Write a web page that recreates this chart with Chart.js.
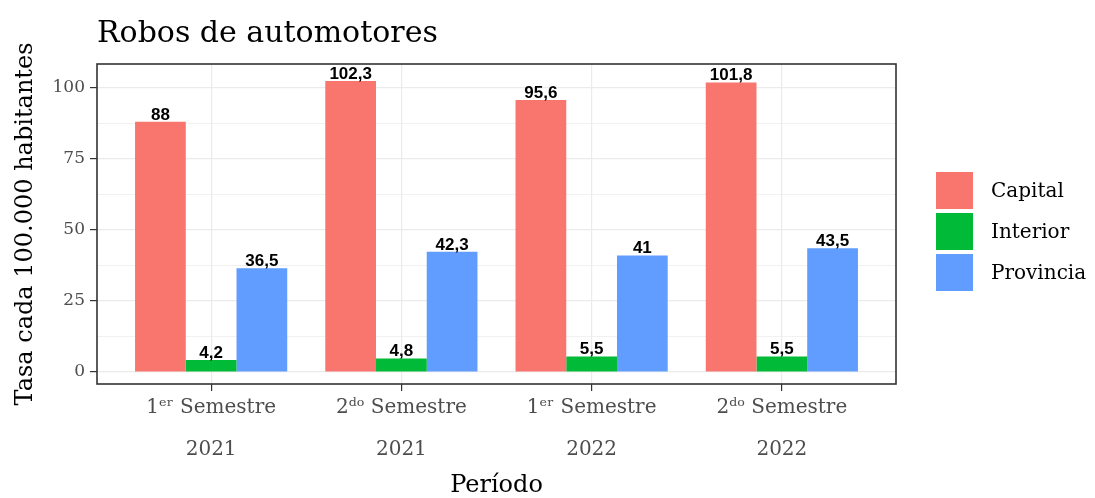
<!DOCTYPE html>
<html>
<head>
<meta charset="utf-8">
<title>Robos de automotores</title>
<script src="https://cdn.jsdelivr.net/npm/chart.js@4/dist/chart.umd.min.js"></script>
<style>
  html, body { margin: 0; padding: 0; background: #ffffff; }
  canvas { display: block; }
</style>
</head>
<body>
<canvas id="chart" width="1095" height="498"></canvas>
<script>
// Periods (semesters) and their tick labels
const periods = [1, 2, 3, 4];
const periodLabels = [
  ['1\u1D49\u02B3 Semestre', '2021'],
  ['2\u1D48\u1D52 Semestre', '2021'],
  ['1\u1D49\u02B3 Semestre', '2022'],
  ['2\u1D48\u1D52 Semestre', '2022']
];

// Rate per 100.000 inhabitants, by region
const capital   = [88, 102.3, 95.6, 101.8];
const interior  = [4.2, 4.8, 5.5, 5.5];
const provincia = [36.5, 42.3, 41, 43.5];

const seriesNames = ['Capital', 'Interior', 'Provincia'];
const seriesColors = ['#F8766D', '#00BA38', '#619CFF'];

const yMajorTicks = [0, 25, 50, 75, 100];
const yMinorTicks = [12.5, 37.5, 62.5, 87.5];

const SERIF = '"DejaVu Serif", "Liberation Serif", serif';

function points(values) {
  return values.map((v, i) => ({ x: periods[i], y: v }));
}

// Title drawn at the top-left of the panel
const titlePlugin = {
  id: 'plotTitle',
  afterDraw(chart) {
    const ctx = chart.ctx;
    ctx.save();
    ctx.fillStyle = '#000000';
    ctx.font = '30px ' + SERIF;
    ctx.textAlign = 'left';
    ctx.textBaseline = 'alphabetic';
    ctx.fillText('Robos de automotores', chart.chartArea.left, 42);
    ctx.restore();
  }
};

// Dark frame around the plotting panel
const panelBorder = {
  id: 'panelBorder',
  afterDraw(chart) {
    const { left, top, right, bottom } = chart.chartArea;
    const ctx = chart.ctx;
    ctx.save();
    ctx.strokeStyle = '#333333';
    ctx.lineWidth = 1.6;
    ctx.strokeRect(left, top, right - left, bottom - top);
    ctx.restore();
  }
};

// Value labels above every bar
const valueLabels = {
  id: 'valueLabels',
  afterDatasetsDraw(chart) {
    const ctx = chart.ctx;
    ctx.save();
    ctx.fillStyle = '#000000';
    ctx.font = 'bold 17px "Liberation Sans", Arial, sans-serif';
    ctx.textAlign = 'center';
    ctx.textBaseline = 'alphabetic';
    chart.data.datasets.forEach((ds, di) => {
      const meta = chart.getDatasetMeta(di);
      meta.data.forEach((bar, i) => {
        const v = ds.data[i].y;
        ctx.fillText(String(v).replace('.', ','), bar.x, bar.y - 2);
      });
    });
    ctx.restore();
  }
};

// Legend with square keys to the right of the panel
const sideLegend = {
  id: 'sideLegend',
  afterDraw(chart) {
    const ctx = chart.ctx;
    const boxX = 936, boxSize = 37, step = 41, firstTop = 172;
    ctx.save();
    ctx.font = '20px ' + SERIF;
    ctx.textAlign = 'left';
    ctx.textBaseline = 'middle';
    chart.data.datasets.forEach((ds, i) => {
      const top = firstTop + i * step;
      ctx.fillStyle = ds.backgroundColor;
      ctx.fillRect(boxX, top, boxSize, boxSize);
      ctx.fillStyle = '#000000';
      ctx.fillText(ds.label, boxX + boxSize + 18, top + boxSize / 2 + 1);
    });
    ctx.restore();
  }
};

new Chart(document.getElementById('chart'), {
  type: 'bar',
  data: {
    datasets: [
      { label: seriesNames[0], data: points(capital),   backgroundColor: seriesColors[0] },
      { label: seriesNames[1], data: points(interior),  backgroundColor: seriesColors[1] },
      { label: seriesNames[2], data: points(provincia), backgroundColor: seriesColors[2] }
    ]
  },
  options: {
    responsive: false,
    animation: false,
    layout: { padding: { top: 64, right: 199, left: 0, bottom: 0 } },
    datasets: {
      bar: { categoryPercentage: 0.8, barPercentage: 1.0, borderWidth: 0 }
    },
    plugins: {
      legend: { display: false },
      tooltip: { enabled: false },
      title: { display: false }
    },
    scales: {
      x: {
        type: 'linear',
        min: 0.4,
        max: 4.6,
        offset: false,
        afterBuildTicks(scale) {
          scale.ticks = periods.map(v => ({ value: v }));
        },
        afterFit(scale) { scale.height = 114; },
        ticks: {
          autoSkip: false,
          maxRotation: 0,
          padding: -4,
          color: '#4D4D4D',
          font: { family: SERIF, size: 20, lineHeight: 2.1 },
          callback(value) { return periodLabels[periods.indexOf(value)] || ''; }
        },
        grid: {
          offset: false,
          color: '#EBEBEB',
          lineWidth: 1.2,
          tickColor: '#333333',
          tickLength: 7,
          drawTicks: true
        },
        border: { display: false },
        title: {
          display: true,
          text: 'Período',
          color: '#000000',
          font: { family: SERIF, size: 24, lineHeight: 1.0 },
          padding: { top: 0, bottom: 0 }
        }
      },
      y: {
        type: 'linear',
        min: -4.2,
        max: 108.3,
        afterBuildTicks(scale) {
          scale.ticks = yMajorTicks.concat(yMinorTicks)
            .sort((a, b) => a - b)
            .map(v => ({ value: v }));
        },
        afterFit(scale) { scale.width = 97; },
        ticks: {
          padding: 5,
          color: '#4D4D4D',
          font: { family: SERIF, size: 17 },
          callback(value) { return yMajorTicks.includes(value) ? String(value) : ''; }
        },
        grid: {
          color: '#EBEBEB',
          lineWidth: (c) => (c.tick && yMajorTicks.includes(c.tick.value) ? 1.2 : 0.7),
          tickColor: (c) => (c.tick && yMajorTicks.includes(c.tick.value) ? '#333333' : 'rgba(0,0,0,0)'),
          tickLength: 7,
          drawTicks: true
        },
        border: { display: false },
        title: {
          display: true,
          text: 'Tasa cada 100.000 habitantes',
          color: '#000000',
          font: { family: SERIF, size: 24, lineHeight: 1.2 },
          padding: { top: 11, bottom: 0 }
        }
      }
    }
  },
  plugins: [valueLabels, panelBorder, titlePlugin, sideLegend]
});
</script>
</body>
</html>
